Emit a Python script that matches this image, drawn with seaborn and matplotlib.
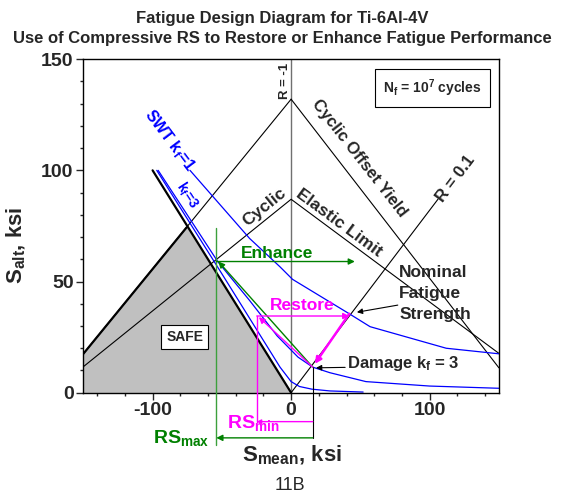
import numpy as np
import pandas as pd
import matplotlib
matplotlib.use("Agg")
import matplotlib.pyplot as plt
import seaborn as sns
from matplotlib.ticker import MultipleLocator

# --- data (ksi) ---
yield_x = [-150, 0, 150]
yield_y = [17.5, 132, 11.2]
elastic_x = [-150, 0, 150]
elastic_y = [11.7, 87, 17.7]
r01_x = [0, 106]
r01_y = [0, 87]
rm1_x = [0, 0]
rm1_y = [0, 150]
goodman_x = [-100, 0]
goodman_y = [100, 0]
safe_x = [-150, -150, -75.5, 0]
safe_y = [0, 17.5, 74.3, 0]

swt1_x = [-73, -30, -8, 1, 42, 57, 112, 150]
swt1_y = [100, 69.4, 56.6, 51, 35.5, 29.7, 20, 17.5]
swt3_x = [-96, -75, -53, -30, -10, 5, 15.6, 28, 54, 100, 150]
swt3_y = [100, 80, 59, 41.5, 25.5, 16, 11.5, 9, 5, 3, 2]
swt3b_x = [-97, -50, -20, -8, 0, 6, 15, 28, 52]
swt3b_y = [100, 53.5, 23.5, 11.5, 5, 2.8, 1.6, 0.8, 0.3]

nominal = (42, 35.5)      # nominal fatigue strength on R = 0.1
damage = (15.6, 11.5)     # damaged fatigue strength, kf = 3
rs_max = -54
rs_min = -24.8
enhance_y = 59
enhance_end = 46

sns.set_theme(style="ticks")
plt.rcParams['font.family'] = ['Liberation Sans', 'DejaVu Sans']
plt.rcParams['mathtext.fontset'] = 'custom'
plt.rcParams['mathtext.rm'] = 'Liberation Sans'
plt.rcParams['mathtext.bf'] = 'Liberation Sans:bold'
plt.rcParams['mathtext.it'] = 'Liberation Sans:italic'
plt.rcParams['axes.unicode_minus'] = False

fig = plt.figure(figsize=(5.65, 4.93), dpi=100)
ax = fig.add_axes([0.1475, 0.2034, 0.7355, 0.6766])

GREEN = "#008000"
MAG = "#FF00FF"
BLUE = "#0000FF"

ax.fill(safe_x, safe_y, color="#C0C0C0", zorder=1)

def line(x, y, color, lw, z=2):
    sns.lineplot(x=x, y=y, ax=ax, color=color, lw=lw, sort=False,
                 estimator=None, zorder=z)

line(rm1_x, rm1_y, "#707070", 1.0)
line(yield_x[:2], yield_y[:2], "black", 0.8)
line(yield_x[1:], yield_y[1:], "black", 0.8)
line(safe_x[1:3], safe_y[1:3], "black", 1.6, 3)
line(elastic_x, elastic_y, "black", 0.8)
line(r01_x, r01_y, "black", 0.8)
line(goodman_x, goodman_y, "black", 1.6, 3)
line(swt1_x, swt1_y, BLUE, 0.9)
line(swt3_x, swt3_y, BLUE, 0.9)
line(swt3b_x, swt3b_y, BLUE, 0.9)

def arrow(p0, p1, color, lw=1.0, ms=9):
    ax.annotate("", xy=p1, xytext=p0, annotation_clip=False,
                arrowprops=dict(arrowstyle="-|>", color=color, lw=lw,
                                mutation_scale=ms, shrinkA=0, shrinkB=0),
                zorder=5)

# enhance (green)
ax.plot([rs_max, rs_max], [74, -23.5], color="#3CA03C", lw=1.0, clip_on=False, zorder=4)
arrow((rs_max, enhance_y), (enhance_end, enhance_y), GREEN)
arrow(damage, (rs_max + 1.5, enhance_y), GREEN)
arrow((damage[0], -20.3), (rs_max, -20.3), GREEN)

# restore (magenta)
ax.plot([rs_min, rs_min], [nominal[1] - 1, -13], color=MAG, lw=1.0, clip_on=False, zorder=4)
arrow((rs_min, nominal[1] - 1), (nominal[0], nominal[1] - 1), MAG)
arrow(damage, (rs_min + 1.5, nominal[1] - 1.5), MAG)
arrow(nominal, (damage[0] + 1.5, damage[1] + 1.5), MAG, lw=1.8)
arrow((damage[0], -13), (rs_min, -13), MAG, ms=6)

ax.plot([damage[0], damage[0]], [damage[1], -20.3], color="black", lw=0.8,
        clip_on=False, zorder=4)

# black pointers
arrow((77, 39.4), (47.5, 36.2), "black", lw=0.8, ms=8)
arrow((39, 11.4), (18, 11.2), "black", lw=0.8, ms=8)

# labels inside plot
bold = dict(fontweight="bold")
ax.text(-4.1, 140, "R = -1", rotation=90, ha="center", va="center", fontsize=9.5, **bold)
ax.text(49.2, 105.3, "Cyclic Offset Yield", rotation=-52, ha="center", va="center",
        fontsize=12, **bold)
ax.text(119, 96.4, "R = 0.1", rotation=53, ha="center", va="center", fontsize=12, **bold)
ax.text(-19.3, 83.6, "Cyclic", rotation=39, ha="center", va="center", fontsize=12.5, **bold)
ax.text(34.8, 76.3, "Elastic Limit", rotation=-36.5, ha="center", va="center",
        fontsize=12.5, **bold)
ax.text(-87.7, 113.2, r"SWT k$_\mathbf{f}$=1", rotation=-53, ha="center", va="center",
        fontsize=11.5, color=BLUE, **bold)
ax.text(-75.1, 88.9, r"k$_\mathbf{f}$=3", rotation=-57, ha="center", va="center",
        fontsize=10, color=BLUE, **bold)
ax.text(102, 137, r"N$_\mathbf{f}$ = 10$^\mathbf{7}$ cycles", ha="center", va="center",
        fontsize=10, bbox=dict(boxstyle="square,pad=0.6", fc="white", ec="black", lw=0.8),
        **bold)
ax.text(-76.9, 25, "SAFE", ha="center", va="center", fontsize=10,
        bbox=dict(boxstyle="square,pad=0.35", fc="white", ec="black", lw=0.8), **bold)
ax.text(-9.9, 62.7, "Enhance", ha="center", va="center", fontsize=12.5, color=GREEN, **bold)
ax.text(7.8, 39.4, "Restore", ha="center", va="center", fontsize=12.5, color=MAG, **bold)
ax.text(78, 57.5, "Nominal\nFatigue\nStrength", ha="left", va="top", fontsize=12.5,
        linespacing=1.5, **bold)
ax.text(40.6, 11.1, r"Damage k$_\mathbf{f}$ = 3", ha="left", va="baseline", fontsize=12, **bold)

# residual stress labels below axis
ax.text(-8.4, -13.6, r"RS$_\mathbf{min}$", ha="right", va="center", fontsize=14,
        color=MAG, clip_on=False, **bold)
ax.text(-58.8, -20.5, r"RS$_\mathbf{max}$", ha="right", va="center", fontsize=14,
        color=GREEN, clip_on=False, **bold)

ax.set_xlim(-150, 150)
ax.set_ylim(0, 150)
ax.xaxis.set_major_locator(MultipleLocator(100))
ax.xaxis.set_minor_locator(MultipleLocator(20))
ax.yaxis.set_major_locator(MultipleLocator(50))
ax.yaxis.set_minor_locator(MultipleLocator(10))
ax.tick_params(which="major", direction="out", length=5, width=1, labelsize=14,
               top=False, right=False, pad=2)
ax.tick_params(which="minor", direction="out", length=2.5, width=1,
               top=False, right=False)
for lab in ax.get_xticklabels() + ax.get_yticklabels():
    lab.set_fontweight("bold")
for sp in ax.spines.values():
    sp.set_visible(True)
    sp.set_color("black")
    sp.set_linewidth(1.0)
ax.set_xlabel("")
ax.set_ylabel("")

fig.text(291.5 / 565, 1 - 461 / 493, r"S$_\mathbf{mean}$, ksi", ha="center", va="baseline",
         fontsize=16, **bold)
fig.text(16 / 565, 1 - 245 / 493, r"S$_\mathbf{alt}$, ksi", rotation=90, ha="center",
         va="center", fontsize=16, **bold)
fig.text(0.5, 1 - 18 / 493, "Fatigue Design Diagram for Ti-6Al-4V", ha="center",
         va="center", fontsize=12, **bold)
fig.text(0.5, 1 - 39 / 493, "Use of Compressive RS to Restore or Enhance Fatigue Performance",
         ha="center", va="center", fontsize=12, **bold)
fig.text(290 / 565, 1 - 486 / 493, "11B", ha="center", va="center", fontsize=13)

fig.savefig("out.png", dpi=100)
